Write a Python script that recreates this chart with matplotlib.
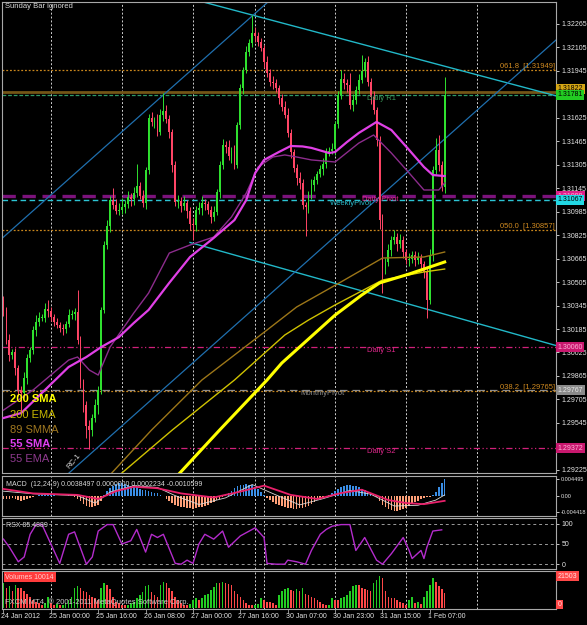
import numpy as np
import matplotlib.pyplot as plt
from matplotlib.transforms import blended_transform_factory

plt.rcParams['font.family'] = ['Liberation Sans', 'DejaVu Sans']

# EURUSD H1, bar 0 = 24 Jan 2012 08:00 ... bar 149 = 1 Feb 12:00
first_open = 1.30383
closes = [
    1.30315, 1.30110, 1.30008, 1.30028, 1.29919, 1.29769, 1.29748, 1.29851, 1.29987, 1.30042,
    1.30178, 1.30233, 1.30260, 1.30260, 1.30321, 1.30308, 1.30267, 1.30233, 1.30212, 1.30192,
    1.30185, 1.30219, 1.30280, 1.30287, 1.30301, 1.30110, 1.29823, 1.29667, 1.29523, 1.29496,
    1.29578, 1.29667, 1.29769, 1.30315, 1.30758, 1.30887, 1.31065, 1.31031, 1.30990, 1.30997,
    1.31017, 1.31037, 1.31085, 1.31072, 1.31112, 1.31160, 1.31092, 1.31044, 1.31269, 1.31624,
    1.31597, 1.31603, 1.31528, 1.31644, 1.31672, 1.31617, 1.31528, 1.31303, 1.31051, 1.31058,
    1.31024, 1.31044, 1.30990, 1.30901, 1.30894, 1.30997, 1.31010, 1.31044, 1.31037, 1.30997,
    1.30949, 1.30983, 1.31119, 1.31303, 1.31440, 1.31426, 1.31365, 1.31399, 1.31303, 1.31576,
    1.31829, 1.31951, 1.32074, 1.32135, 1.32204, 1.32183, 1.32142, 1.32101, 1.32006, 1.31931,
    1.31869, 1.31863, 1.31829, 1.31760, 1.31699, 1.31644, 1.31522, 1.31392, 1.31283, 1.31215,
    1.31181, 1.31031, 1.31017, 1.31099, 1.31167, 1.31201, 1.31242, 1.31276, 1.31310, 1.31392,
    1.31399, 1.31412, 1.31583, 1.31781, 1.31890, 1.31863, 1.31849, 1.31713, 1.31747, 1.31815,
    1.31883, 1.31945, 1.32006, 1.31869, 1.31767, 1.31679, 1.31474, 1.30928, 1.30601, 1.30642,
    1.30724, 1.30792, 1.30812, 1.30765, 1.30792, 1.30710, 1.30656, 1.30662, 1.30690, 1.30656,
    1.30669, 1.30628, 1.30574, 1.30383, 1.30690, 1.31269, 1.31406, 1.31303, 1.31153, 1.31781,
]
# wick lengths in pips
hi_wick = [
    3, 2, 4, 2, 3, 2, 3, 4, 3, 2,   3, 5, 4, 3, 4, 6, 3, 2, 3, 2,
    3, 2, 4, 3, 3, 15, 3, 2, 3, 4,  3, 4, 3, 2, 3, 4, 3, 8, 4, 5,
    6, 3, 4, 3, 4, 15, 3, 4, 2, 3,  4, 3, 5, 4, 12, 4, 3, 2, 3, 4,
    3, 5, 2, 3, 4, 3, 4, 5, 3, 2,   3, 4, 2, 3, 4, 3, 5, 3, 4, 2,
    3, 2, 4, 3, 12, 4, 3, 3, 2, 4,  3, 4, 3, 2, 3, 4, 5, 3, 2, 3,
    4, 3, 2, 3, 4, 3, 2, 3, 4, 3,   3, 4, 2, 3, 6, 4, 3, 8, 4, 3,
    4, 11, 3, 4, 3, 4, 2, 3, 4, 3,  4, 3, 5, 3, 4, 3, 2, 4, 3, 3,
    4, 3, 2, 3, 4, 3, 8, 10, 3, 12,
]
lo_wick = [
    4, 3, 4, 3, 5, 4, 13, 3, 4, 3,  3, 4, 3, 2, 3, 4, 3, 3, 2, 3,
    4, 3, 2, 3, 4, 3, 4, 5, 8, 13,  4, 3, 6, 3, 2, 3, 4, 3, 2, 3,
    3, 4, 3, 5, 4, 3, 2, 3, 4, 3,   3, 4, 3, 2, 4, 3, 4, 5, 3, 4,
    4, 3, 5, 4, 10, 4, 3, 5, 4, 3,  4, 3, 2, 4, 3, 4, 3, 5, 3, 2,
    3, 4, 2, 3, 3, 4, 3, 2, 4, 3,   3, 4, 3, 4, 3, 2, 3, 4, 3, 5,
    4, 3, 20, 4, 3, 4, 3, 2, 4, 3,  3, 2, 4, 3, 3, 4, 5, 3, 4, 3,
    3, 2, 4, 3, 5, 3, 4, 6, 17, 4,  3, 4, 3, 5, 3, 4, 3, 4, 3, 4,
    3, 5, 4, 12, 3, 4, 3, 4, 3, 4,
]

# moving averages, read at a few bars
sma200_x = [58, 73, 89, 94, 112, 121, 127, 137, 143, 149]
sma200_y = [1.29169, 1.29496, 1.29837, 1.29953, 1.30280, 1.30417, 1.30499, 1.30560, 1.30601, 1.30642]
ema200_x = [38, 57, 78, 95, 103, 112, 128, 142, 149]
ema200_y = [1.29169, 1.29496, 1.29837, 1.30144, 1.30246, 1.30349, 1.30519, 1.30574, 1.30594]
smma89_x = [35, 50, 67, 89, 99, 114, 128, 142, 149]
smma89_y = [1.29169, 1.29496, 1.29837, 1.30178, 1.30335, 1.30506, 1.30669, 1.30676, 1.30710]
sma55_x = [0, 6, 14, 22, 28, 33, 39, 44, 49, 56, 63, 71, 78, 82, 85, 88, 93, 97, 101, 104,
           110, 112, 116, 120, 126, 131, 137, 142, 145, 149]
sma55_y = [1.29578, 1.29612, 1.29769, 1.29926, 1.29994, 1.30062, 1.30130, 1.30226, 1.30315,
           1.30500, 1.30676, 1.30806, 1.30928, 1.31065, 1.31249, 1.31338, 1.31392, 1.31433,
           1.31430, 1.31420, 1.31385, 1.31392, 1.31460, 1.31522, 1.31597, 1.31542, 1.31406,
           1.31290, 1.31235, 1.31228]
ema55_x = [0, 10, 22, 25, 29, 32, 36, 44, 49, 56, 63, 71, 77, 82, 86, 91, 95, 99, 104, 112,
           120, 125, 131, 137, 142, 147, 149]
ema55_y = [1.29632, 1.29769, 1.29973, 1.29994, 1.29905, 1.29871, 1.30062, 1.30294, 1.30430,
           1.30703, 1.30758, 1.30812, 1.30949, 1.31112, 1.31290, 1.31358, 1.31372, 1.31358,
           1.31338, 1.31324, 1.31453, 1.31508, 1.31385, 1.31249, 1.31133, 1.31133, 1.31181]

# levels
fib_levels = [1.31949, 1.30857, 1.29765]
fib_names = ['061.8', '050.0', '038.2']
daily_r1 = 1.31801
bid = 1.31781
daily_pivot = 1.31092
weekly_pivot = 1.31067
daily_s1 = 1.30060
monthly_pivot = 1.29767
daily_s2 = 1.29372

# trend lines (bar, price) anchors
chan_top = [(60, 1.32455), (187, 1.31773)]
chan_low = [(63, 1.30775), (187, 1.30070)]
rc_upper = [(-1, 1.30794), (95, 1.32517)]
rc_lower = [(20, 1.29165), (187, 1.32163)]

# right scale (labels hidden under the price tags in the original are left out)
price_ticks = [1.32265, 1.32105, 1.31945, 1.31625, 1.31465, 1.31305, 1.31145,
               1.30985, 1.30825, 1.30665, 1.30505, 1.30345, 1.30185, 1.30025, 1.29865,
               1.29705, 1.29545, 1.29225]

# MACD (x 1e-4)
macd_hist = [
    -8, -10, -9, -7, -9, -12, -14, -12, -10, -7,   -4, -2, 1, 2, 1, 1, 2, 1, 0, -1,
    -1, 0, 1, 0, -3, -8, -15, -22, -27, -30,       -31, -29, -25, -14, 2, 12, 20, 27, 31, 33,
    33, 32, 30, 27, 25, 22, 18, 15, 14, 12,        10, 8, 6, 3, -2, -8, -14, -20, -25, -28,
    -30, -32, -33, -34, -35, -34, -32, -30, -27, -24,  -20, -16, -12, -8, -3, 2, 6, 12, 20, 25,
    28, 30, 31, 30, 28, 24, 18, 10, 2, -6,         -12, -17, -22, -26, -29, -31, -33, -34, -35, -35,
    -34, -33, -30, -27, -23, -18, -13, -8, -4, -1,  2, 6, 12, 18, 24, 27, 28, 28, 27, 25,
    22, 18, 14, 10, 6, 2, -5, -15, -24, -32,       -37, -40, -41, -42, -40, -37, -33, -28, -23, -18,
    -14, -10, -7, -5, -3, 1, 10, 22, 34, 44,
]
signal_x = [0, 10, 25, 32, 38, 44, 52, 60, 71, 80, 88, 97, 106, 114, 121, 130, 136, 142, 149]
signal_v = [18, 6, 2, -9, 12, 24, 20, 6, -5, 11, 27, 2, -9, 7, 16, -12, -20, -23, -14]
macd_x = [0, 10, 25, 31, 36, 44, 52, 58, 66, 75, 84, 92, 100, 108, 117, 124, 132, 140, 146, 149]
macd_v = [12, 5, 0, -20, 10, 27, 22, 0, -24, -6, 30, 2, -25, -8, 14, 4, -28, -26, -12, 2]

# RSX
rsx_x = [0, 2, 5, 7, 9, 11, 13, 19, 22, 24, 28, 30, 32, 35, 37, 40, 43, 45, 48, 50, 52, 54, 58,
         60, 62, 64, 66, 68, 71, 74, 76, 80, 85, 88, 89, 92, 95, 96, 99, 102, 104, 107, 109, 111,
         114, 117, 119, 122, 126, 128, 131, 135, 137, 138, 141, 142, 143, 145, 148]
rsx_v = [62, 42, 6, 18, 74, 98, 98, 2, 74, 80, 0, 18, 82, 98, 98, 50, 58, 86, 30, 74, 66, 74, 2,
         0, 10, 2, 50, 74, 62, 82, 42, 70, 90, 66, 2, 0, 0, 10, 6, 0, 34, 74, 86, 94,
         98, 98, 34, 66, 10, 0, 26, 66, 34, 14, 34, 14, 42, 82, 85]

# tick volumes (thousands)
volumes_k = [
    16.8, 13.7, 14.7, 11.6, 15.7, 13.2, 13.2, 11.6, 9.5, 7.5,
    5.4, 4.3, 3.3, 2.3, 3.3, 7.5, 3.3, 2.3, 2.9, 1.7,
    2.3, 3.3, 5.4, 7.5, 13.2, 14.7, 13.2, 11.6, 10.6, 8.5,
    7.5, 6.4, 5.4, 13.7, 16.8, 15.7, 12.6, 7.5, 4.3, 3.3,
    2.3, 1.7, 2.3, 3.3, 4.3, 6.4, 8.5, 10.6, 14.7, 15.7,
    10.6, 8.5, 7.5, 15.7, 17.8, 16.8, 13.2, 11.6, 7.5, 5.4,
    3.3, 2.3, 1.7, 2.9, 5.4, 6.4, 5.4, 7.0, 8.5, 9.5,
    12.0, 14.1, 16.8, 16.8, 17.4, 16.8, 16.1, 15.7, 11.6, 9.5,
    7.5, 5.4, 3.3, 2.3, 1.7, 2.3, 2.9, 6.4, 5.4, 4.3,
    4.3, 3.3, 2.3, 8.5, 11.6, 12.6, 13.2, 12.0, 11.2, 12.6,
    11.6, 13.2, 9.5, 8.5, 7.5, 6.4, 5.4, 4.3, 2.9, 1.7,
    2.3, 6.4, 5.4, 5.4, 6.4, 7.5, 8.5, 11.6, 14.7, 15.7,
    15.7, 13.2, 12.6, 12.0, 11.2, 16.8, 18.8, 21.5, 19.9, 11.6,
    7.5, 6.4, 6.4, 5.4, 4.3, 3.3, 2.3, 5.4, 7.5, 3.3,
    4.3, 2.9, 7.5, 11.6, 15.7, 20.3, 17.8, 14.7, 12.6, 10.0,
]

time_labels = ['24 Jan 2012', '25 Jan 00:00', '25 Jan 16:00', '26 Jan 08:00', '27 Jan 00:00',
               '27 Jan 16:00', '30 Jan 07:00', '30 Jan 23:00', '31 Jan 15:00', '1 Feb 07:00']
label_bars = [0, 16, 32, 48, 64, 80, 96, 112, 128, 144]
day_bars = [16, 40, 64, 85, 88, 112, 136, 160]

W, H = 587.0, 625.0
fig = plt.figure(figsize=(W / 100, H / 100), dpi=100, facecolor='black')


def panel(top, bottom):
    a = fig.add_axes([2 / W, 1 - bottom / H, 554 / W, (bottom - top) / H])
    a.set_facecolor('black')
    a.set_xlim(-0.5, 186.6)
    for s in a.spines.values():
        s.set_color('#a8a8a8')
        s.set_linewidth(0.8)
    a.tick_params(axis='x', bottom=False, labelbottom=False)
    a.yaxis.tick_right()
    a.tick_params(axis='y', colors='#e6e6e6', labelsize=5, length=2.5, width=0.6, pad=1.5)
    for b in day_bars:
        a.axvline(b, color='#d0d0d0', lw=0.7, ls=(0, (2, 2)), zorder=1)
    return a


def tag(a, y, s, fc, tc, va='center'):
    a.text(1.003, y, s, transform=blended_transform_factory(a.transAxes, a.transData),
           ha='left', va=va, fontsize=5, color=tc, clip_on=False, zorder=10,
           bbox=dict(boxstyle='square,pad=0.2', fc=fc, ec='none'))


ax = panel(2, 473)
ax_macd = panel(476, 516)
ax_rsx = panel(518, 569)
ax_vol = panel(571, 609)

# ---- main chart
ax.set_ylim(1.29203, 1.32415)
ax.set_yticks(price_ticks)
ax.set_yticklabels(['%.5f' % p for p in price_ticks])

for lv in fib_levels:
    ax.axhline(lv, color='#c8861c', lw=0.9, ls=(0, (1.5, 1.5)), zorder=1)
ax.axhline(daily_r1, color='#735516', lw=2.0, zorder=1)
ax.axhline(bid, color='#2f9a66', lw=0.9, ls=(0, (3, 1.5)), zorder=1)
ax.axhline(daily_pivot, color='#7c137c', lw=2.4, ls=(0, (4, 2)), zorder=1)
ax.axhline(weekly_pivot, color='#2cc4d4', lw=1.0, ls=(0, (4, 2.5)), zorder=1)
ax.axhline(daily_s1, color='#d0207a', lw=0.9, ls=(0, (5, 2, 1, 2, 1, 2)), zorder=1)
ax.axhline(daily_s2, color='#d0207a', lw=0.9, ls=(0, (5, 2, 1, 2, 1, 2)), zorder=1)
ax.axhline(monthly_pivot, color='#8c8c8c', lw=0.9, ls=(0, (6, 4)), zorder=1)

for (x0, y0), (x1, y1) in [chan_top, chan_low]:
    ax.plot([x0, x1], [y0, y1], color='#22b8c8', lw=1.0, zorder=2)
for (x0, y0), (x1, y1) in [rc_upper, rc_lower]:
    ax.plot([x0, x1], [y0, y1], color='#1f6fae', lw=0.9, zorder=2)

c = np.array(closes)
o = np.r_[first_open, c[:-1]]
bars = np.arange(len(c))
cols = np.where(c >= o, '#2fe02f', '#ff4566')
hi = np.maximum(o, c) + np.array(hi_wick) * 1e-4
lo = np.minimum(o, c) - np.array(lo_wick) * 1e-4
ax.vlines(bars, lo, hi, colors=cols, lw=0.7, zorder=3)
ax.bar(bars, np.maximum(np.abs(c - o), 0.00004), bottom=np.minimum(o, c), width=0.62,
       color=cols, lw=0, zorder=3)

ax.plot(smma89_x, smma89_y, color='#9c7618', lw=1.0, zorder=4)
ax.plot(ema200_x, ema200_y, color='#cfc200', lw=1.0, zorder=4)
ax.plot(sma200_x, sma200_y, color='#ffff00', lw=2.2, zorder=4)
ax.plot(ema55_x, ema55_y, color='#8c2c8c', lw=1.0, zorder=4)
ax.plot(sma55_x, sma55_y, color='#e040e6', lw=1.6, zorder=4)

lab = dict(fontsize=5.5, zorder=6)
ax.text(122.8, bid, 'Daily R1', color='#3c9c5c', va='top', **lab)
ax.text(110.3, weekly_pivot, 'WeeklyPivot', color='#2ab8c8', va='top', **lab)
ax.text(121.1, daily_pivot, 'Daily Pivot', color='#e0288c', va='top', **lab)
ax.text(122.8, daily_s1, 'Daily S1', color='#e0288c', va='top', **lab)
ax.text(100.2, monthly_pivot, 'MonthlyPivot', color='#8c8c8c', va='top', **lab)
ax.text(122.8, daily_s2, 'Daily S2', color='#e0288c', va='top', **lab)
for lv, nm in zip(fib_levels, fib_names):
    ax.text(0.998, lv, '%s  [%.5f]' % (nm, lv),
            transform=blended_transform_factory(ax.transAxes, ax.transData),
            ha='right', va='bottom', color='#d08a20', **lab)

tag(ax, 1.31822, '1.31822', '#d4a514', '#000000')
tag(ax, bid, '1.31781', '#22cc22', '#000000')
tag(ax, daily_pivot, '1.31098', '#e0208a', '#ffb0d8')
tag(ax, weekly_pivot, '1.31067', '#22d8e4', '#000000')
tag(ax, daily_s1, '1.30060', '#c8186e', '#ffb0d8')
tag(ax, monthly_pivot, '1.29767', '#8a8a8a', '#e8e8e8')
tag(ax, daily_s2, '1.29372', '#c8186e', '#ffb0d8')

fig.text(5 / W, 1 - 6 / H, 'Sunday Bar ignored', color='#d8d8d8', fontsize=5.5, va='center')
legend = [('200 SMA', '#ffff00', 'bold', 399), ('200 EMA', '#c8b800', 'normal', 415),
          ('89 SMMA', '#a07820', 'normal', 430), ('55 SMA', '#e040f0', 'bold', 444),
          ('55 EMA', '#8e3a8e', 'normal', 459)]
for txt, col, wt, yy in legend:
    fig.text(10 / W, 1 - yy / H, txt, color=col, fontsize=8, fontweight=wt, va='center')
fig.text(66 / W, 1 - 468 / H, 'RC-1', color='#d8d8d8', fontsize=5.5, rotation=50)

# ---- MACD
ax_macd.set_ylim(-0.005498, 0.005305)
ax_macd.set_yticks([0.004495, 0.0, -0.004418])
ax_macd.set_yticklabels(['0.004495', '0.00', '-0.004418'])
ax_macd.tick_params(axis='y', labelsize=4.0, pad=1)
h = np.array(macd_hist) * 1e-4
ax_macd.bar(bars, h, width=0.55, color=np.where(h >= 0, '#3a8ee6', '#ffa078'), lw=0, zorder=2)
ax_macd.plot(macd_x, np.array(macd_v) * 1e-4, color='#d8d8d8', lw=0.6, zorder=3)
ax_macd.plot(signal_x, np.array(signal_v) * 1e-4, color='#e8206a', lw=1.3, zorder=3)
ax_macd.text(0.008, 0.88, 'MACD  (12,24,9) 0.0038497 0.0000000 0.0002234 -0.0010599',
             transform=ax_macd.transAxes, color='#d8d8d8', fontsize=5, va='top', zorder=5)

# ---- RSX
ax_rsx.set_ylim(-11.9, 114.3)
ax_rsx.set_yticks([100, 50, 0])
ax_rsx.set_yticklabels(['100', '50', '0'])
for lv in [100, 50, 0]:
    ax_rsx.axhline(lv, color='#9a9a9a', lw=0.7, ls=(0, (3, 3)), zorder=1)
ax_rsx.plot(rsx_x, rsx_v, color='#b42ccc', lw=1.0, zorder=3)
ax_rsx.text(0.008, 0.93, 'RSX 85.4889', transform=ax_rsx.transAxes, color='#d8d8d8',
            fontsize=5, va='top', zorder=5)

# ---- Volumes
vol = np.array(volumes_k) * 1000
vcol = np.where(np.r_[True, vol[1:] > vol[:-1]], '#22cc22', '#ff4848')
ax_vol.set_ylim(-672, 24863)
ax_vol.set_yticks([])
ax_vol.bar(bars, vol, width=0.55, color=vcol, lw=0, zorder=2)
ax_vol.text(0.006, 0.84, 'Volumes 10014', transform=ax_vol.transAxes, color='#ffd0d0',
            fontsize=5, va='center', zorder=5,
            bbox=dict(boxstyle='square,pad=0.25', fc='#ff3b3b', ec='none'))
ax_vol.text(0.006, 0.08, 'FXCM MT4, \u00a9 2001-2011 MetaQuotes Software Corp.',
            transform=ax_vol.transAxes, color='#c8c8c8', fontsize=5.5, va='bottom', zorder=5)
tag(ax_vol, 21503, '21503', '#ff4848', '#ffe0e0')
tag(ax_vol, 0, '0', '#ff4848', '#ffe0e0', va='bottom')

ax_vol.set_xticks(label_bars)
ax_vol.tick_params(axis='x', bottom=True, length=3, color='#a8a8a8', width=0.6)
tt = blended_transform_factory(ax_vol.transData, fig.transFigure)
for b, s in zip(label_bars, time_labels):
    ax_vol.text(b - 0.7, 1 - 617 / H, s, transform=tt, color='#e6e6e6', fontsize=5,
                ha='left', va='center')

fig.savefig('out.png', dpi=100, facecolor='black')
